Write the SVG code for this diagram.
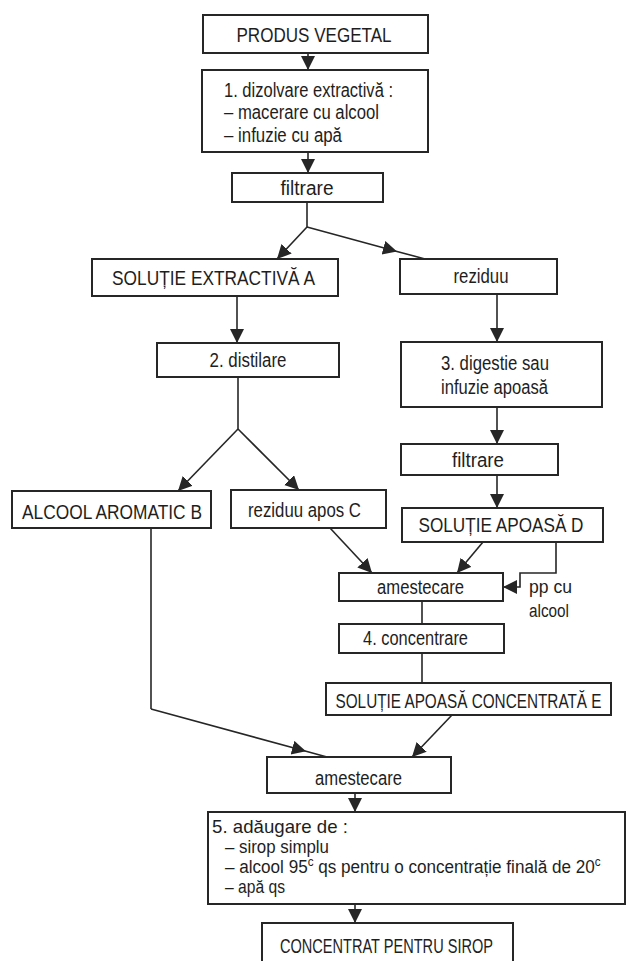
<svg xmlns="http://www.w3.org/2000/svg" width="627" height="961" viewBox="0 0 627 961">
<style>
  .box { fill: #fff; stroke: #262626; stroke-width: 2; }
  .t { font-family: "Liberation Sans", Arial, sans-serif; font-size: 20px; fill: #1e1e1e; }
  .c { text-anchor: middle; }
  .s { font-size: 19px; }
  .ln { fill: none; stroke: #262626; stroke-width: 1.6; }
</style>
<defs>
  <marker id="ah" markerUnits="userSpaceOnUse" markerWidth="16" markerHeight="16" refX="14" refY="7" orient="auto" viewBox="0 0 16 16">
    <path d="M0,0 L14,7 L0,14 z" fill="#262626"/>
  </marker>
</defs>
<rect width="627" height="961" fill="#fff"/>

<g id="connectors">
  <line class="ln" x1="308" y1="53" x2="308" y2="70" marker-end="url(#ah)"/>
  <line class="ln" x1="308" y1="152" x2="308" y2="173" marker-end="url(#ah)"/>
  <line class="ln" x1="307" y1="202" x2="307" y2="227"/>
  <line class="ln" x1="307" y1="227" x2="277" y2="259" marker-end="url(#ah)"/>
  <polyline class="ln" points="307,227 397,251.4 425,259" marker-mid="url(#ah)"/>
  <line class="ln" x1="237" y1="296" x2="237" y2="343" marker-end="url(#ah)"/>
  <line class="ln" x1="497" y1="294" x2="497" y2="342" marker-end="url(#ah)"/>
  <line class="ln" x1="238" y1="377" x2="238" y2="429"/>
  <line class="ln" x1="238" y1="429" x2="178" y2="491" marker-end="url(#ah)"/>
  <line class="ln" x1="238" y1="429" x2="299" y2="490" marker-end="url(#ah)"/>
  <line class="ln" x1="497" y1="407" x2="497" y2="444" marker-end="url(#ah)"/>
  <line class="ln" x1="497" y1="475" x2="497" y2="508" marker-end="url(#ah)"/>
  <line class="ln" x1="330" y1="528" x2="372" y2="573" marker-end="url(#ah)"/>
  <line class="ln" x1="483" y1="542" x2="457" y2="573" marker-end="url(#ah)"/>
  <path class="ln" d="M556,542 V573 H520 V587 H503" marker-end="url(#ah)"/>
  <line class="ln" x1="422" y1="601" x2="422" y2="624"/>
  <line class="ln" x1="422" y1="653" x2="422" y2="683"/>
  <line class="ln" x1="151" y1="528" x2="151" y2="709"/>
  <polyline class="ln" points="151,709 306,751.3 327,757" marker-mid="url(#ah)"/>
  <line class="ln" x1="452" y1="715" x2="412" y2="757" marker-end="url(#ah)"/>
  <line class="ln" x1="355" y1="793" x2="355" y2="812" marker-end="url(#ah)"/>
  <line class="ln" x1="355" y1="904" x2="355" y2="923" marker-end="url(#ah)"/>
</g>

<g id="produs-vegetal">
  <rect class="box" x="203" y="15" width="225" height="38"/>
  <text class="t c" x="314" y="42" textLength="155" lengthAdjust="spacingAndGlyphs">PRODUS VEGETAL</text>
</g>
<g id="dizolvare">
  <rect class="box" x="202" y="70" width="226" height="82"/>
  <text class="t" x="224" y="97" textLength="169" lengthAdjust="spacingAndGlyphs">1. dizolvare extractivă :</text>
  <text class="t" x="224" y="119" textLength="155" lengthAdjust="spacingAndGlyphs">– macerare cu alcool</text>
  <text class="t" x="224" y="142" textLength="118" lengthAdjust="spacingAndGlyphs">– infuzie cu apă</text>
</g>
<g id="filtrare1">
  <rect class="box" x="232" y="173" width="151" height="29"/>
  <text class="t c" x="307" y="195" textLength="53" lengthAdjust="spacingAndGlyphs">filtrare</text>
</g>
<g id="solutie-a">
  <rect class="box" x="92" y="259" width="246" height="37"/>
  <text class="t c" x="213.5" y="285" textLength="203" lengthAdjust="spacingAndGlyphs">SOLUȚIE EXTRACTIVĂ A</text>
</g>
<g id="reziduu">
  <rect class="box" x="400" y="259" width="157" height="35"/>
  <text class="t c" x="481" y="283" textLength="55" lengthAdjust="spacingAndGlyphs">reziduu</text>
</g>
<g id="distilare">
  <rect class="box" x="157" y="343" width="182" height="34"/>
  <text class="t c" x="248" y="367" textLength="77" lengthAdjust="spacingAndGlyphs">2. distilare</text>
</g>
<g id="digestie">
  <rect class="box" x="401" y="342" width="201" height="65"/>
  <text class="t c" x="495" y="370" textLength="108" lengthAdjust="spacingAndGlyphs">3. digestie sau</text>
  <text class="t c" x="494.5" y="394" textLength="107" lengthAdjust="spacingAndGlyphs">infuzie apoasă</text>
</g>
<g id="filtrare2">
  <rect class="box" x="401" y="444" width="157" height="31"/>
  <text class="t c" x="478" y="467" textLength="52" lengthAdjust="spacingAndGlyphs">filtrare</text>
</g>
<g id="solutie-d">
  <rect class="box" x="402" y="508" width="201" height="34"/>
  <text class="t c" x="501" y="532" textLength="165" lengthAdjust="spacingAndGlyphs">SOLUȚIE APOASĂ D</text>
</g>
<g id="alcool-b">
  <rect class="box" x="12" y="491" width="199" height="37"/>
  <text class="t c" x="112" y="519" textLength="180" lengthAdjust="spacingAndGlyphs">ALCOOL AROMATIC B</text>
</g>
<g id="reziduu-c">
  <rect class="box" x="231" y="490" width="155" height="38"/>
  <text class="t c" x="304.5" y="517" textLength="113" lengthAdjust="spacingAndGlyphs">reziduu apos C</text>
</g>
<g id="amestecare1">
  <rect class="box" x="339" y="573" width="164" height="28"/>
  <text class="t c" x="420.5" y="594" textLength="87" lengthAdjust="spacingAndGlyphs">amestecare</text>
</g>
<g id="pp-alcool">
  <text class="t" x="529" y="593" textLength="43" lengthAdjust="spacingAndGlyphs" style="font-size:18px">pp  cu</text>
  <text class="t" x="529" y="617" textLength="40" lengthAdjust="spacingAndGlyphs" style="font-size:18px">alcool</text>
</g>
<g id="concentrare">
  <rect class="box" x="339" y="624" width="165" height="29"/>
  <text class="t c" x="415.5" y="645" textLength="105" lengthAdjust="spacingAndGlyphs">4. concentrare</text>
</g>
<g id="solutie-e">
  <rect class="box" x="326" y="683" width="285" height="32"/>
  <text class="t c" x="468.5" y="708" textLength="266" lengthAdjust="spacingAndGlyphs">SOLUȚIE APOASĂ CONCENTRATĂ E</text>
</g>
<g id="amestecare2">
  <rect class="box" x="267" y="757" width="184" height="36"/>
  <text class="t c" x="358.5" y="785" textLength="87" lengthAdjust="spacingAndGlyphs">amestecare</text>
</g>
<g id="adaugare">
  <rect class="box" x="208" y="812" width="417" height="92"/>
  <text class="t s" x="212" y="833" textLength="136" lengthAdjust="spacingAndGlyphs">5. adăugare de :</text>
  <text class="t s" x="225" y="853" textLength="104" lengthAdjust="spacingAndGlyphs">– sirop simplu</text>
  <text class="t s" transform="translate(225,873) scale(0.9,1)">– alcool 95<tspan dy="-7" style="font-size:13px">c</tspan><tspan dy="7"> qs  pentru o concentrație  finală de 20</tspan><tspan dy="-7" style="font-size:13px">c</tspan></text>
  <text class="t s" x="225" y="893" textLength="60" lengthAdjust="spacingAndGlyphs">– apă qs</text>
</g>
<g id="concentrat-sirop">
  <rect class="box" x="262" y="923" width="251" height="44"/>
  <text class="t c" x="386.5" y="953" textLength="213" lengthAdjust="spacingAndGlyphs">CONCENTRAT PENTRU SIROP</text>
</g>
</svg>
